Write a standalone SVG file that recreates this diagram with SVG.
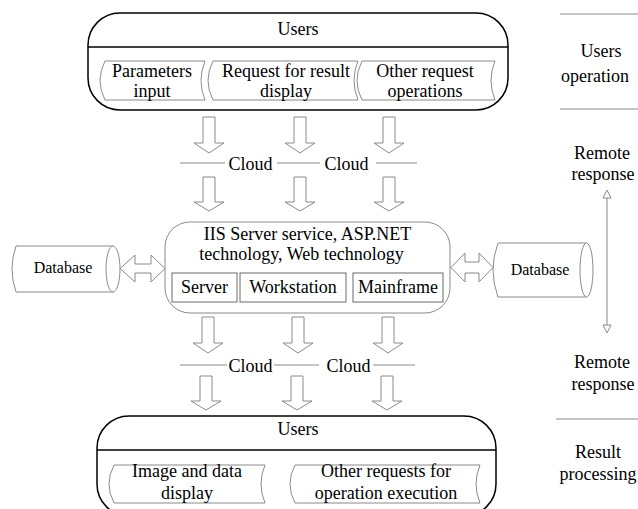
<svg xmlns="http://www.w3.org/2000/svg" width="638" height="509" viewBox="0 0 638 509">
<style>
text{font-family:"Liberation Serif","Times New Roman",serif;font-size:18px;fill:#000;text-anchor:middle}
.db{font-size:16px}
.outer{fill:#fff;stroke:#000;stroke-width:1.5}
.g{fill:#fff;stroke:#8a8a8a;stroke-width:1}
.sub{fill:#fff;stroke:#6a6a6a;stroke-width:1}
.ln{stroke:#8a8a8a;stroke-width:1;fill:none}
.arr{fill:#fff;stroke:#8a8a8a;stroke-width:1}
</style>
<defs>
<path id="dn1" d="M-6,0 H6 V26 H15 L0,36 L-15,26 H-6 Z"/>
<path id="dn2" d="M-6,0 H6 V25 H15 L0,34 L-15,25 H-6 Z"/>
</defs>
<rect width="638" height="509" fill="#fff"/>

<g id="users-top">
<rect class="outer" x="88" y="13" width="420" height="97" rx="32" ry="32"/>
<line x1="88" y1="47" x2="508" y2="47" stroke="#000" stroke-width="1.5"/>
<text x="298" y="35">Users</text>
</g>
<g id="param-input">
<path class="g" d="M105,61 L205,61 Q197,80.5 205,100 L105,100 Q95,80.5 105,61 Z"/>
<text x="152" y="77">Parameters</text>
<text x="152" y="97">input</text>
</g>
<g id="request-display">
<path class="g" d="M213,61 L358,61 Q350,80.5 358,100 L213,100 Q203,80.5 213,61 Z"/>
<text x="286" y="77">Request for result</text>
<text x="286" y="97">display</text>
</g>
<g id="other-request">
<path class="g" d="M362,61 L495,61 Q487,80.5 495,100 L362,100 Q352,80.5 362,61 Z"/>
<text x="425" y="77">Other request</text>
<text x="425" y="97">operations</text>
</g>

<g id="server-box">
<rect class="g" x="165" y="222" width="285" height="91" rx="25" ry="25"/>
<text x="307.5" y="240">IIS Server service, ASP.NET</text>
<text x="301.5" y="260">technology, Web technology</text>
</g>
<g id="server">
<rect class="sub" x="172" y="273" width="65" height="29"/>
<text x="204.5" y="293">Server</text>
</g>
<g id="workstation">
<rect class="sub" x="240" y="273" width="106" height="29"/>
<text x="293" y="293">Workstation</text>
</g>
<g id="mainframe">
<rect class="sub" x="353" y="273" width="90" height="29"/>
<text x="398" y="293">Mainframe</text>
</g>

<g id="db-left">
<path class="g" d="M16,246 L113,246 L113,292 L16,292 Q8,269 16,246 Z"/>
<ellipse class="g" cx="113" cy="269" rx="7" ry="23"/>
<text class="db" x="63" y="273">Database</text>
</g>
<g id="db-right">
<path class="g" d="M498,243 L586,243 L586,297 L498,297 Q488,270 498,243 Z"/>
<ellipse class="g" cx="586.5" cy="270" rx="6.5" ry="27"/>
<text class="db" x="540" y="275">Database</text>
</g>

<g id="users-bottom">
<rect class="outer" x="97" y="416" width="399" height="100" rx="32" ry="32"/>
<line x1="97" y1="450" x2="496" y2="450" stroke="#000" stroke-width="1.5"/>
<text x="298" y="435">Users</text>
</g>
<g id="image-display">
<path class="g" d="M114,465 L265,465 Q257,484 265,503 L114,503 Q104,484 114,465 Z"/>
<text x="187" y="477">Image and data</text>
<text x="187" y="499">display</text>
</g>
<g id="other-requests">
<path class="g" d="M295,465 L480,465 Q472,484 480,503 L295,503 Q285,484 295,465 Z"/>
<text x="386" y="477">Other requests for</text>
<text x="386" y="499">operation execution</text>
</g>

<g id="cloud-top">
<line class="ln" x1="180" y1="163" x2="225" y2="163"/>
<line class="ln" x1="277" y1="163" x2="320" y2="163"/>
<line class="ln" x1="376" y1="163" x2="417" y2="163"/>
<text x="250.5" y="170">Cloud</text>
<text x="346.5" y="170">Cloud</text>
</g>
<g id="cloud-bottom">
<line class="ln" x1="180" y1="365" x2="227" y2="365"/>
<line class="ln" x1="274" y1="365" x2="319" y2="365"/>
<line class="ln" x1="373" y1="365" x2="415" y2="365"/>
<text x="250.5" y="372">Cloud</text>
<text x="348.5" y="372">Cloud</text>
</g>

<g id="labels">
<line class="ln" x1="560" y1="14" x2="638" y2="14"/>
<line class="ln" x1="560" y1="109" x2="638" y2="109"/>
<line class="ln" x1="556" y1="419" x2="638" y2="419"/>
<text x="601" y="57">Users</text>
<text x="561" y="82" style="text-anchor:start">operation</text>
<text x="602" y="159">Remote</text>
<text x="603" y="180">response</text>
<text x="602" y="368">Remote</text>
<text x="603" y="390">response</text>
<text x="598" y="458">Result</text>
<text x="598" y="480">processing</text>
</g>

<g id="connectors">
<use href="#dn1" class="arr" x="209" y="117"/>
<use href="#dn1" class="arr" x="300" y="117"/>
<use href="#dn1" class="arr" x="389" y="117"/>
<use href="#dn2" class="arr" x="209" y="177"/>
<use href="#dn2" class="arr" x="300" y="177"/>
<use href="#dn2" class="arr" x="389" y="177"/>
<use href="#dn1" class="arr" x="208" y="317"/>
<use href="#dn1" class="arr" x="298" y="317"/>
<use href="#dn1" class="arr" x="388" y="317"/>
<use href="#dn2" class="arr" x="206" y="376"/>
<use href="#dn2" class="arr" x="297" y="376"/>
<use href="#dn2" class="arr" x="387" y="376"/>
<path class="arr" d="M120,268.5 L135,255 V264 H151 V255 L165,268.5 L151,282 V273 H135 V282 Z"/>
<path class="arr" d="M451,267.5 L465,253 V262 H479 V253 L493,267.5 L479,282 V273 H465 V282 Z"/>
<line class="ln" x1="607" y1="197" x2="607" y2="326"/>
<path class="arr" d="M607,190 L611,198 L603,198 Z"/>
<path class="arr" d="M607,333 L611,325 L603,325 Z"/>
</g>
</svg>
